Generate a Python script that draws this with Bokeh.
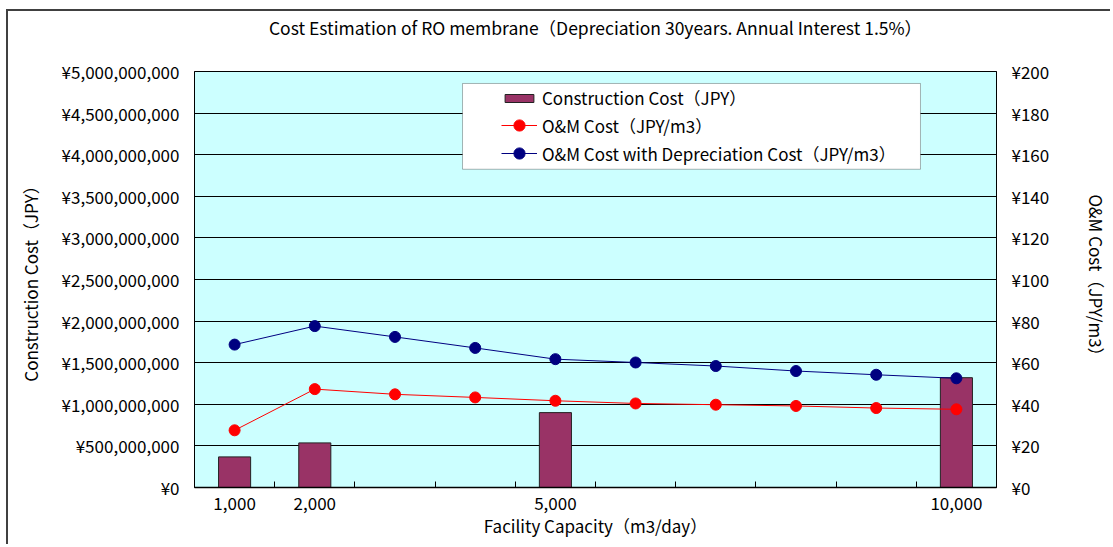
from bokeh.plotting import figure
from bokeh.models import (Range1d, LinearAxis, FixedTicker, NumeralTickFormatter,
                          Legend, LegendItem, BoxAnnotation)
from bokeh.embed import file_html
from bokeh.resources import INLINE

# ---------------- data ----------------
capacity = [1000, 2000, 3000, 4000, 5000, 6000, 7000, 8000, 9000, 10000]
om_cost = [27.5, 47.3, 44.8, 43.3, 41.7, 40.4, 39.8, 39.2, 38.2, 37.6]
om_dep_cost = [68.7, 77.6, 72.4, 67.1, 61.7, 60.1, 58.4, 56.0, 54.2, 52.5]
bar_capacity = [1000, 2000, 5000, 10000]
construction_cost = [368e6, 536e6, 900e6, 1320e6]
x_label_ticks = [1000, 2000, 5000, 10000]
left_ticks = [i * 500_000_000 for i in range(11)]
left_tick_labels = [f"¥{v:,}" for v in left_ticks]
right_ticks = [i * 20 for i in range(11)]
right_tick_labels = [f"¥{v}" for v in right_ticks]

TITLE = "Cost Estimation of RO membrane（Depreciation 30years. Annual Interest 1.5%）"
FONT = "Noto Sans CJK JP"
FS = "17px"

p = figure(width=1104, height=535, output_backend="svg", toolbar_location=None,
           title=None,
           x_range=Range1d(500, 10500), y_range=Range1d(0, 5e9),
           min_border_left=186, min_border_right=116, min_border_top=59,
           min_border_bottom=59,
           background_fill_color="#CCFFFF", border_fill_color="white",
           outline_line_color="black", outline_line_width=1)
p.styles = {"border-left": "2px solid #404040", "border-top": "2px solid #404040",
            "margin-left": "6px", "margin-top": "9px"}

p.extra_y_ranges = {"om": Range1d(0, 200)}

# the regular axes created by figure()
xa = p.below[0]
ya = p.left[0]

# chart title, carried by a tick-less axis above the plot area
ta = LinearAxis(ticker=FixedTicker(ticks=[]), axis_label=TITLE)
ta.axis_line_color = None
ta.major_tick_in = 0
ta.major_tick_out = 0
ta.minor_tick_in = 0
ta.minor_tick_out = 0
ta.major_label_standoff = 0
ta.axis_label_standoff = 32
ta.axis_label_text_font = FONT
ta.axis_label_text_font_size = "17.5px"
ta.axis_label_text_font_style = "normal"
ta.axis_label_text_color = "black"
p.add_layout(ta, "above")

# left axis
ya.ticker = FixedTicker(ticks=left_ticks)
ya.major_label_overrides = dict(zip(left_ticks, left_tick_labels))
ya.axis_label = "Construction Cost（JPY）"

ra = LinearAxis(y_range_name="om", ticker=FixedTicker(ticks=right_ticks),
                axis_label="O&M Cost（JPY/m3）")
ra.major_label_overrides = dict(zip(right_ticks, right_tick_labels))
p.add_layout(ra, "right")

for ax in (ya, ra):
    ax.major_tick_in = 0
    ax.major_tick_out = 0
    ax.minor_tick_in = 0
    ax.minor_tick_out = 0
    ax.axis_line_color = "black"
    ax.major_label_text_font = FONT
    ax.major_label_text_font_size = FS
    ax.major_label_text_color = "black"
    ax.major_label_standoff = 15
    ax.axis_label_text_font = FONT
    ax.axis_label_text_font_size = FS
    ax.axis_label_text_font_style = "normal"
    ax.axis_label_text_color = "black"
ya.axis_label_standoff = 16
ra.axis_label_standoff = 32

xa.ticker = FixedTicker(ticks=x_label_ticks,
                        minor_ticks=[c + 500 for c in capacity[:-1]])
xa.formatter = NumeralTickFormatter(format="0,0")
xa.major_tick_in = 0
xa.major_tick_out = 0
xa.minor_tick_in = 6
xa.minor_tick_out = 0
xa.minor_tick_line_color = "black"
xa.axis_line_color = "black"
xa.axis_line_width = 1.5
xa.major_label_text_font = FONT
xa.major_label_text_font_size = FS
xa.major_label_text_color = "black"
xa.major_label_standoff = 9
xa.axis_label = "Facility Capacity（m3/day）"
xa.axis_label_text_font = FONT
xa.axis_label_text_font_size = FS
xa.axis_label_text_font_style = "normal"
xa.axis_label_text_color = "black"
xa.axis_label_standoff = 0

p.xgrid.grid_line_color = None
p.ygrid.grid_line_color = "black"
p.ygrid.grid_line_width = 1

# data
bars = p.vbar(x=bar_capacity, top=construction_cost, width=400,
              fill_color="#993366", line_color="#222222", line_width=1)
r_line = p.line(capacity, om_cost, y_range_name="om", line_color="red", line_width=1)
r_pts = p.scatter(capacity, om_cost, y_range_name="om", size=11,
                  fill_color="red", line_color="red")
b_line = p.line(capacity, om_dep_cost, y_range_name="om", line_color="#000080", line_width=1)
b_pts = p.scatter(capacity, om_dep_cost, y_range_name="om", size=11,
                  fill_color="#000080", line_color="#000080")

# legend frame
box = BoxAnnotation(left=3842, right=9552, top=4.856e9, bottom=3.825e9,
                    fill_color="white", fill_alpha=1.0,
                    line_color="black", line_width=1)
p.add_layout(box)

common = dict(padding=0, margin=0, spacing=0, glyph_width=36, label_standoff=5,
              border_line_color=None, background_fill_alpha=0,
              label_text_font=FONT, label_text_font_size=FS, label_text_color="black")
leg1 = Legend(items=[LegendItem(label="Construction Cost（JPY）", renderers=[bars])],
              location=(307, 377), glyph_height=10, label_height=10, **common)
leg2 = Legend(items=[LegendItem(label="O&M Cost（JPY/m3）", renderers=[r_line, r_pts]),
                     LegendItem(label="O&M Cost with Depreciation Cost（JPY/m3）",
                                renderers=[b_line, b_pts])],
              location=(307, 320), glyph_height=28, label_height=28, **common)
p.add_layout(leg1, "center")
p.add_layout(leg2, "center")

open("out.html", "w").write(file_html(p, INLINE))
